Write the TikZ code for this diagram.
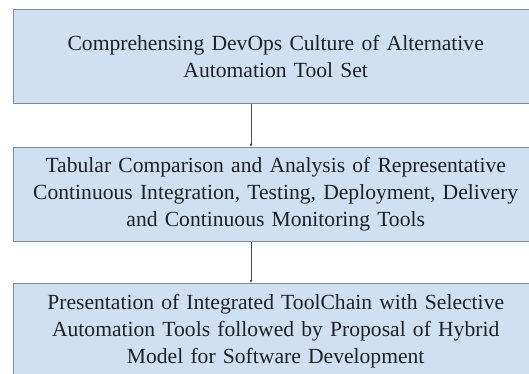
\documentclass[tikz,border=0pt]{standalone}
\usepackage{fontspec}
\setmainfont{Liberation Serif}
\usetikzlibrary{arrows.meta}

\definecolor{boxfill}{RGB}{207,224,242}
\definecolor{boxline}{RGB}{130,138,148}
\definecolor{txtgray}{RGB}{30,33,38}

\begin{document}
\begin{tikzpicture}[x=1pt,y=-1pt,
		etapa/.style={draw=boxline, line width=1.4pt, fill=boxfill, anchor=north west,
			minimum width=524pt, minimum height=94pt, inner sep=0pt,
			text width=510pt, align=center, text=txtgray,
			font=\fontsize{21.6}{27}\selectfont},
		flecha/.style={draw=black!70, line width=0.9pt, -{Latex[length=3pt,width=3pt]}}]
			
			% Marco de la figura
			\useasboundingbox (0,0) rectangle (529,374);
			\clip (0,0) rectangle (529,374);
			
			% Etapas
			\node[etapa] (etapa1) at (13,9) {Comprehensing DevOps Culture of Alternative\\Automation Tool Set};
			\node[etapa] (etapa2) at (13,147) {Tabular Comparison and Analysis of Representative\\Continuous Integration, Testing, Deployment, Delivery\\and Continuous Monitoring Tools};
			\node[etapa] (etapa3) at (13,283) {Presentation of Integrated ToolChain with Selective\\Automation Tools followed by Proposal of Hybrid\\Model for Software Development};
			
			% Eje de las flechas
			\coordinate (eje) at (251,0);
			
			% Flechas entre etapas
			\draw[flecha] (etapa1.south -| eje) -- (etapa2.north -| eje);
			\draw[flecha] (etapa2.south -| eje) -- (etapa3.north -| eje);
			
		\end{tikzpicture}
\end{document}
